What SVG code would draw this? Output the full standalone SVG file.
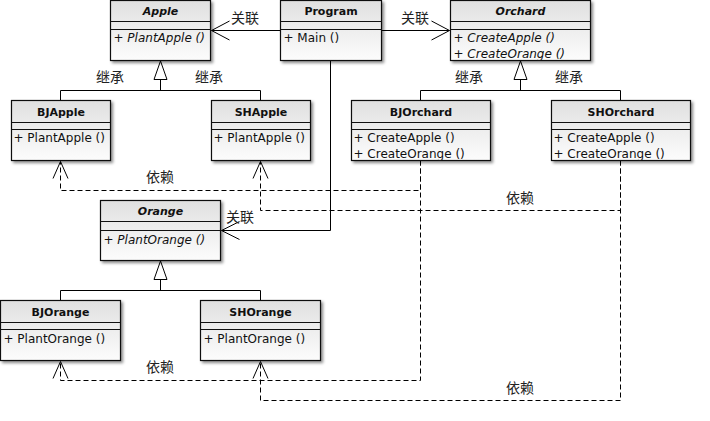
<svg xmlns="http://www.w3.org/2000/svg" width="710" height="421" viewBox="0 0 710 421">
<defs>
<linearGradient id="g" x1="0" y1="0" x2="0" y2="1">
<stop offset="0" stop-color="#e0e0e0"/>
<stop offset="1" stop-color="#fcfcfc"/>
</linearGradient>
<filter id="sh" x="-10%" y="-10%" width="130%" height="140%">
<feDropShadow dx="2" dy="2" stdDeviation="1.8" flood-color="#000" flood-opacity="0.45"/>
</filter>
</defs>
<style>
.box{fill:url(#g);stroke:#111;stroke-width:1.2;filter:url(#sh)}
.sep{stroke:#111;stroke-width:1}
.t{font-family:"DejaVu Sans",Verdana,sans-serif;font-size:11px;font-weight:bold;text-anchor:middle;fill:#111}
.m{font-family:"DejaVu Sans",Verdana,sans-serif;font-size:12px;fill:#111}
.i{font-style:italic}
.lbl{font-family:"Noto Sans CJK SC","DejaVu Sans",sans-serif;font-size:14px;fill:#222}
.solid{fill:none;stroke:#000;stroke-width:1}
.dash{fill:none;stroke:#000;stroke-width:1;stroke-dasharray:5,3}
.tri{fill:#fff;stroke:#000;stroke-width:1}
.arr{fill:none;stroke:#000;stroke-width:1}
</style>

<g id="connectors">
<g transform="translate(0.5,0.5)">
<!-- associations -->
<path class="solid" d="M280,30 H211"/>
<path class="arr" d="M229,20.5 L211,30 L229,39.5"/>
<path class="solid" d="M381,30 H449"/>
<path class="arr" d="M431,20.5 L449,30 L431,39.5"/>
<path class="solid" d="M330,60 V230 H221"/>
<path class="arr" d="M239,221 L221,230 L239,239"/>
<!-- inheritance Apple -->
<path class="solid" d="M60,100 V90 H260 V100 M160,90 V79"/>
<polygon class="tri" points="160,60.5 153.5,79 166.5,79"/>
<!-- inheritance Orchard -->
<path class="solid" d="M420,100 V90 H620 V100 M520,90 V79"/>
<polygon class="tri" points="520,60.5 513.5,79 526.5,79"/>
<!-- inheritance Orange -->
<path class="solid" d="M60,300 V290 H260 V300 M160,290 V279"/>
<polygon class="tri" points="160,260.5 153.5,279 166.5,279"/>
<!-- dependencies -->
<path class="dash" d="M420,160 V190 H60 V161"/>
<path class="arr" d="M52.5,178 L60,161 L67.5,178"/>
<path class="dash" d="M620,160 V210 H260 V161"/>
<path class="arr" d="M252.5,178 L260,161 L267.5,178"/>
<path class="dash" d="M420,160 V380 H60 V361"/>
<path class="arr" d="M52.5,378 L60,361 L67.5,378"/>
<path class="dash" d="M620,160 V400 H260 V361"/>
<path class="arr" d="M252.5,378 L260,361 L267.5,378"/>
</g>
<!-- labels -->
<text class="lbl" x="231" y="23">关联</text>
<text class="lbl" x="401" y="23">关联</text>
<text class="lbl" x="226" y="222">关联</text>
<text class="lbl" x="96" y="82">继承</text>
<text class="lbl" x="195" y="82">继承</text>
<text class="lbl" x="455" y="82">继承</text>
<text class="lbl" x="555" y="82">继承</text>
<text class="lbl" x="146" y="182">依赖</text>
<text class="lbl" x="506" y="203">依赖</text>
<text class="lbl" x="146" y="372">依赖</text>
<text class="lbl" x="506" y="393">依赖</text>
</g>

<g id="Apple" transform="translate(110.5,0.5)">
<rect class="box" x="0" y="0" width="100" height="60"/>
<path class="sep" d="M0,21 H100 M0,29 H100"/>
<text class="t i" x="50" y="14">Apple</text>
<text class="m i" x="3" y="41">+ PlantApple ()</text>
</g>

<g id="Program" transform="translate(280.5,0.5)">
<rect class="box" x="0" y="0" width="101" height="60"/>
<path class="sep" d="M0,21 H101 M0,29 H101"/>
<text class="t" x="50.5" y="14">Program</text>
<text class="m" x="3" y="41">+ Main ()</text>
</g>

<g id="Orchard" transform="translate(450.5,0.5)">
<rect class="box" x="0" y="0" width="140" height="60"/>
<path class="sep" d="M0,21 H140 M0,29 H140"/>
<text class="t i" x="70" y="14">Orchard</text>
<text class="m i" x="3" y="41">+ CreateApple ()</text>
<text class="m i" x="3" y="57">+ CreateOrange ()</text>
</g>

<g id="BJApple" transform="translate(11.5,100.5)">
<rect class="box" x="0" y="0" width="99" height="60"/>
<path class="sep" d="M0,22 H99 M0,29 H99"/>
<text class="t" x="49.5" y="15">BJApple</text>
<text class="m" x="2" y="41">+ PlantApple ()</text>
</g>

<g id="SHApple" transform="translate(211.5,100.5)">
<rect class="box" x="0" y="0" width="99" height="60"/>
<path class="sep" d="M0,22 H99 M0,29 H99"/>
<text class="t" x="49.5" y="15">SHApple</text>
<text class="m" x="2" y="41">+ PlantApple ()</text>
</g>

<g id="BJOrchard" transform="translate(351.5,100.5)">
<rect class="box" x="0" y="0" width="139" height="60"/>
<path class="sep" d="M0,22 H139 M0,29 H139"/>
<text class="t" x="69.5" y="15">BJOrchard</text>
<text class="m" x="2" y="41">+ CreateApple ()</text>
<text class="m" x="2" y="57">+ CreateOrange ()</text>
</g>

<g id="SHOrchard" transform="translate(551.5,100.5)">
<rect class="box" x="0" y="0" width="139" height="60"/>
<path class="sep" d="M0,22 H139 M0,29 H139"/>
<text class="t" x="69.5" y="15">SHOrchard</text>
<text class="m" x="2" y="41">+ CreateApple ()</text>
<text class="m" x="2" y="57">+ CreateOrange ()</text>
</g>

<g id="Orange" transform="translate(100.5,200.5)">
<rect class="box" x="0" y="0" width="120" height="60"/>
<path class="sep" d="M0,21 H120 M0,30 H120"/>
<text class="t i" x="60" y="14">Orange</text>
<text class="m i" x="3" y="43">+ PlantOrange ()</text>
</g>

<g id="BJOrange" transform="translate(0.5,300.5)">
<rect class="box" x="0" y="0" width="120" height="60"/>
<path class="sep" d="M0,22 H120 M0,29 H120"/>
<text class="t" x="60" y="15">BJOrange</text>
<text class="m" x="3" y="42">+ PlantOrange ()</text>
</g>

<g id="SHOrange" transform="translate(200.5,300.5)">
<rect class="box" x="0" y="0" width="120" height="60"/>
<path class="sep" d="M0,22 H120 M0,29 H120"/>
<text class="t" x="60" y="15">SHOrange</text>
<text class="m" x="3" y="42">+ PlantOrange ()</text>
</g>
</svg>
